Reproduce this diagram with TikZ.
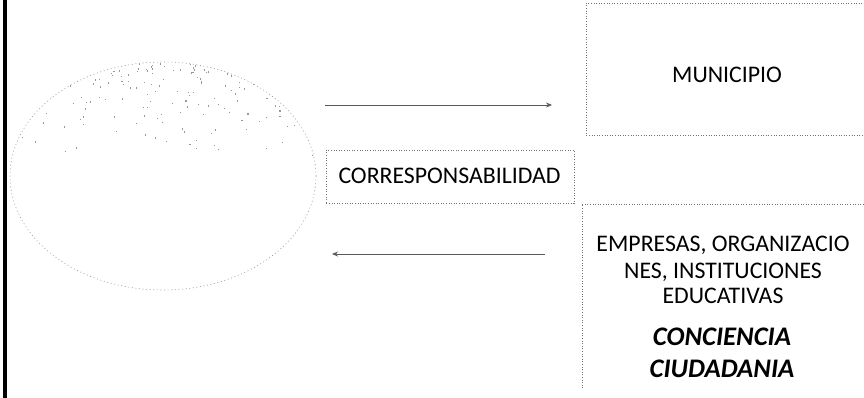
\documentclass[tikz,border=0pt]{standalone}
\usepackage{fontspec}
\setmainfont{Carlito}
\usetikzlibrary{arrows.meta,shapes.geometric}
\begin{document}
\begin{tikzpicture}[x=1pt,y=-1pt,
  boxline/.style={draw=black!55, line width=0.6pt, dash pattern=on 1pt off 1.6pt, inner sep=0pt, anchor=north west},
  edge/.style={draw=black!55, line width=0.6pt, dash pattern=on 1pt off 1.6pt},
  lbl/.style={font=\fontsize{23.8}{27}\selectfont, inner sep=0pt, anchor=base},
  blbl/.style={lbl, font=\fontsize{26.8}{30}\selectfont\bfseries\itshape},
  conn/.style={draw=black!65, line width=0.8pt, -{Stealth[length=6pt,width=5pt]}},
  speck/.style={fill=black!40}]
\clip (0,0) rectangle (864,398);
\fill[white] (0,0) rectangle (864,398);
% left border line
\draw[line width=3.5pt] (5,0) -- (5,398);
% ellipse with speckled upper part
\begin{scope}
  \clip (163,176) ellipse [x radius=153, y radius=114];
  \pgfmathsetseed{4217}
  \foreach \i in {1,...,210} {
    \pgfmathsetmacro\px{163+(2*rnd-1)*150}
    \pgfmathsetmacro\py{62+105*rnd*rnd}
    \fill[speck] (\px,\py) rectangle ++(1.1,1.4);
  }
\end{scope}
\node (ell) [ellipse, draw=black!40, line width=0.6pt, dash pattern=on 1pt off 2.6pt,
  minimum width=306pt, minimum height=228pt, inner sep=0pt] at (163,176) {};
% boxes
\node (muni) [boxline, minimum width=280pt, minimum height=132pt] at (586,3) {};
\node (corr) [boxline, minimum width=248pt, minimum height=53pt] at (326,150) {};
\node (emp)  [inner sep=0pt, anchor=north west, minimum width=284pt, minimum height=184pt] at (582,204) {};
\draw[edge] (emp.south west) -- (emp.north west) -- (emp.north east);
% texts
\node (munitxt) [lbl] at (727,83) {MUNICIPIO};
\node (corrtxt) [lbl] at (449.5,184) {CORRESPONSABILIDAD};
\node (e1) [lbl] at (723,251.5) {EMPRESAS, ORGANIZACIO};
\node (e2) [lbl] at (723,278) {NES, INSTITUCIONES};
\node (e3) [lbl] at (723,303) {EDUCATIVAS};
\node (c1) [blbl] at (722,345.5) {CONCIENCIA};
\node (c2) [blbl] at (722,377.5) {CIUDADANIA};
% connectors
\coordinate (t1) at (325,105);
\coordinate (t2) at (552,105);
\coordinate (b1) at (545,254);
\coordinate (b2) at (332,254);
\draw[conn] (t1) -- (t2);
\draw[conn] (b1) -- (b2);
\end{tikzpicture}
\end{document}
